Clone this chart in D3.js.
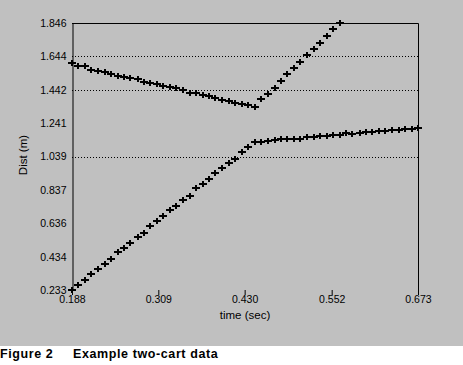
<!DOCTYPE html>
<html>
<head>
<meta charset="utf-8">
<script src="https://cdn.jsdelivr.net/npm/d3@7"></script>
<style>
  html, body { margin: 0; padding: 0; background: #fff; }
  svg { display: block; }
</style>
</head>
<body>
<div id="chart"></div>
<script>
// sample times (s)
const times = [0.188, 0.197, 0.206, 0.215, 0.225, 0.234, 0.243, 0.252, 0.261, 0.270,
  0.280, 0.289, 0.298, 0.307, 0.316, 0.325, 0.334, 0.344, 0.353, 0.362,
  0.371, 0.380, 0.389, 0.398, 0.408, 0.417, 0.426, 0.435, 0.444, 0.453,
  0.463, 0.472, 0.481, 0.490, 0.499, 0.508, 0.517, 0.527, 0.536, 0.545,
  0.554, 0.563, 0.572, 0.581, 0.591, 0.600, 0.609, 0.618, 0.627, 0.636,
  0.646, 0.655, 0.664, 0.673]

// cart A (upper), ends where it leaves the top of the plot
const cartA = [1.603, 1.586, 1.586, 1.562, 1.556, 1.548, 1.540, 1.524, 1.520, 1.514,
  1.506, 1.488, 1.485, 1.476, 1.467, 1.458, 1.451, 1.442, 1.426, 1.421,
  1.411, 1.405, 1.391, 1.381, 1.375, 1.364, 1.357, 1.349, 1.338, 1.385,
  1.415, 1.456, 1.496, 1.536, 1.572, 1.612, 1.653, 1.687, 1.727, 1.767,
  1.808, 1.844]

// cart B (lower)
const cartB = [0.231, 0.261, 0.293, 0.330, 0.360, 0.390, 0.420, 0.461, 0.485, 0.517,
  0.555, 0.576, 0.618, 0.648, 0.678, 0.714, 0.743, 0.774, 0.799, 0.847,
  0.873, 0.902, 0.938, 0.968, 1.002, 1.024, 1.065, 1.095, 1.127, 1.125,
  1.133, 1.139, 1.143, 1.147, 1.147, 1.147, 1.157, 1.157, 1.165, 1.165,
  1.171, 1.168, 1.180, 1.174, 1.180, 1.188, 1.188, 1.195, 1.195, 1.198,
  1.200, 1.206, 1.206, 1.210]

const xTicks = [0.188, 0.309, 0.430, 0.552, 0.673]
const yTicks = [0.233, 0.434, 0.636, 0.837, 1.039, 1.241, 1.442, 1.644, 1.846]
const gridVals = [1.039, 1.442, 1.644]

const width = 463, height = 365
const margin = {left: 72, right: 45, top: 23, bottom: 75}
const font = "'Liberation Sans', Arial, sans-serif"

const svg = d3.select('#chart').append('svg')
    .attr('width', width)
    .attr('height', height)

// grey panel, white strip for the caption
svg.append('rect').attr('width', width).attr('height', 346).attr('fill', '#c0c0c0')

const x = d3.scaleLinear().domain([0.188, 0.673]).range([margin.left, width - margin.right])
const y = d3.scaleLinear().domain([0.233, 1.846]).range([height - margin.bottom, margin.top])

// dotted gridlines
svg.append('g')
    .selectAll('line')
    .data(gridVals)
    .enter()
    .append('line')
    .attr('x1', x.range()[0]).attr('x2', x.range()[1])
    .attr('y1', d => Math.round(y(d)) + 0.5).attr('y2', d => Math.round(y(d)) + 0.5)
    .attr('stroke', '#000')
    .attr('stroke-width', 1)
    .attr('stroke-dasharray', '1,2')

// frame: top and right
svg.append('path')
    .attr('d', `M${x.range()[0]},${y(1.846) + 0.5}H${x.range()[1] + 0.5}V${y(0.233)}`)
    .attr('fill', 'none')
    .attr('stroke', '#000')

const yAxis = svg.append('g')
    .attr('transform', `translate(${x.range()[0] + 0.5},0)`)
    .call(d3.axisLeft(y).tickValues(yTicks).tickFormat(d3.format('.3f')).tickSize(0).tickPadding(6))
yAxis.select('.domain').attr('stroke', '#000')
yAxis.selectAll('text').attr('font-family', font).attr('font-size', 10.5).attr('fill', '#000')

const xAxis = svg.append('g')
    .attr('transform', `translate(0,${y.range()[0]})`)
    .call(d3.axisBottom(x).tickValues(xTicks).tickFormat(d3.format('.3f')).tickSize(5).tickPadding(1))
xAxis.select('.domain').remove()
xAxis.selectAll('line').attr('stroke', '#000')
xAxis.selectAll('text').attr('font-family', font).attr('font-size', 10.5).attr('fill', '#000')

// axis titles
svg.append('text')
    .text('time (sec)')
    .attr('x', 245).attr('y', 319)
    .attr('text-anchor', 'middle')
    .attr('font-family', font).attr('font-size', 11.5)

svg.append('text')
    .text('Dist (m)')
    .attr('transform', 'translate(27,155) rotate(-90)')
    .attr('text-anchor', 'middle')
    .attr('font-family', font).attr('font-size', 11.5)

// plus markers
const plus = 'M-4,0H4M0,-3V3'
const series = [cartA, cartB]
series.forEach(vals => {
    svg.append('g')
        .selectAll('path')
        .data(vals)
        .enter()
        .append('path')
        .attr('d', plus)
        .attr('transform', (d, i) => `translate(${Math.round(x(times[i]))},${Math.round(y(d))})`)
        .attr('stroke', '#000')
        .attr('stroke-width', 2)
})

// caption
const cap = svg.append('text')
    .attr('y', 358)
    .attr('font-family', font)
    .attr('font-weight', 'bold')
    .attr('font-size', 12.5)
    .attr('letter-spacing', 0.6)
cap.append('tspan').attr('x', 0).text('Figure 2')
cap.append('tspan').attr('x', 73).text('Example two-cart data')
</script>
</body>
</html>
